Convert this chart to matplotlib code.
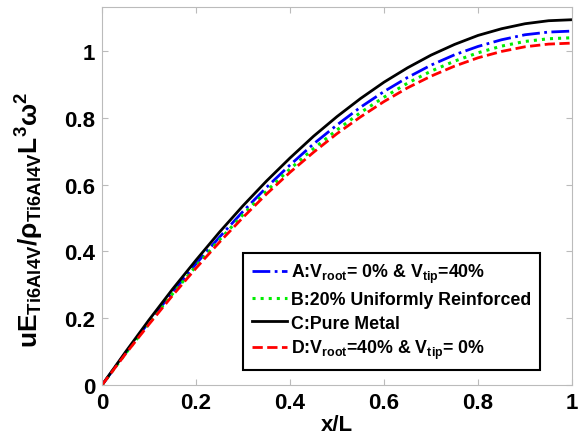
import matplotlib
matplotlib.use("Agg")
import matplotlib.pyplot as plt

plt.rcParams['font.family'] = ['Liberation Sans', 'DejaVu Sans']
plt.rcParams['font.weight'] = 'bold'
plt.rcParams['mathtext.fontset'] = 'custom'
plt.rcParams['mathtext.rm'] = 'Liberation Sans:bold'
plt.rcParams['mathtext.bf'] = 'Liberation Sans:bold'
plt.rcParams['mathtext.it'] = 'Liberation Sans:bold'
plt.rcParams['mathtext.default'] = 'bf'

# x/L positions and normalised displacement
x_over_L = [0.00, 0.05, 0.10, 0.15, 0.20, 0.25, 0.30, 0.35, 0.40, 0.45, 0.50,
            0.55, 0.60, 0.65, 0.70, 0.75, 0.80, 0.85, 0.90, 0.95, 1.00]
u_A = [0, 0.096, 0.189, 0.278, 0.363, 0.443, 0.520, 0.592, 0.659, 0.722, 0.779,
       0.832, 0.879, 0.921, 0.958, 0.989, 1.014, 1.034, 1.049, 1.057, 1.060]
u_B = [0, 0.094, 0.185, 0.273, 0.356, 0.435, 0.510, 0.581, 0.647, 0.708, 0.764,
       0.816, 0.862, 0.904, 0.940, 0.970, 0.995, 1.015, 1.029, 1.037, 1.040]
u_C = [0, 0.099, 0.195, 0.287, 0.374, 0.458, 0.537, 0.611, 0.680, 0.745, 0.804,
       0.858, 0.907, 0.950, 0.988, 1.020, 1.047, 1.067, 1.082, 1.091, 1.094]
u_D = [0, 0.093, 0.182, 0.268, 0.350, 0.428, 0.502, 0.572, 0.637, 0.697, 0.753,
       0.803, 0.849, 0.890, 0.925, 0.955, 0.980, 0.999, 1.013, 1.021, 1.024]

labels = [r"A:V$_{root}$= 0% & V$_{tip}$=40%",
          "B:20% Uniformly Reinforced",
          "C:Pure Metal",
          r"D:V$_{root}$=40% & V$_{tip}$= 0%"]

fig = plt.figure(figsize=(5.81, 4.39), dpi=100)
ax = fig.add_axes([0.1756, 0.1207, 0.809, 0.861])

ax.plot(x_over_L, u_A, color='#0000ff', linestyle='-.', linewidth=2, label=labels[0])
ax.plot(x_over_L, u_B, color='#00ee00', linestyle=':', linewidth=2.2, label=labels[1])
ax.plot(x_over_L, u_C, color='black', linestyle='-', linewidth=2, label=labels[2])
ax.plot(x_over_L, u_D, color='#ff0000', linestyle='--', linewidth=2, label=labels[3])

ax.set_xlim(0, 1)
ax.set_ylim(0, 1.132)
ax.set_xticks([0, 0.2, 0.4, 0.6, 0.8, 1])
ax.set_xticklabels(['0', '0.2', '0.4', '0.6', '0.8', '1'])
ax.set_yticks([0, 0.2, 0.4, 0.6, 0.8, 1])
ax.set_yticklabels(['0', '0.2', '0.4', '0.6', '0.8', '1'])
ax.tick_params(direction='in', top=True, right=True, length=4, color='#bbbbbb',
               labelsize=16, pad=5)
for s in ax.spines.values():
    s.set_color('#bbbbbb')
    s.set_linewidth(0.8)

ax.set_xlabel('x/L', fontsize=16, fontweight='bold', labelpad=1)
ax.set_ylabel(r"uE$_{Ti6Al4V}$/$\rho_{Ti6Al4V}$L$^{3}\omega^{2}$",
              fontsize=19, fontweight='bold', labelpad=2)
ax.yaxis.set_label_coords(-0.12, 0.44)

leg = ax.legend(loc='lower left', bbox_to_anchor=(0.30, 0.04), borderaxespad=0,
                fontsize=12.8, handlelength=2.0, handletextpad=0.2,
                labelspacing=0.35, borderpad=0.5, fancybox=False, framealpha=1)
leg.get_frame().set_edgecolor('black')
leg.get_frame().set_linewidth(1.5)
for t in leg.get_texts():
    t.set_fontweight('bold')

fig.savefig('out.png', dpi=100)
